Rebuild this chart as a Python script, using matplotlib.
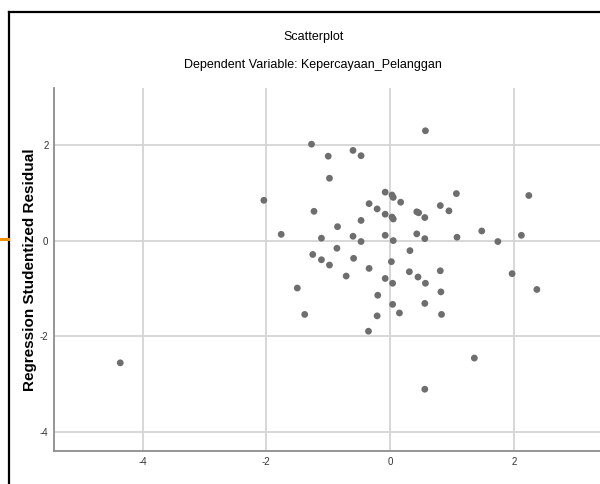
import matplotlib
matplotlib.use("Agg")
from matplotlib import pyplot as plt
from matplotlib.lines import Line2D

# Regression standardized predicted value (x) vs studentized residual (y)
predicted = [0.57, -1.27, -0.60, -0.47, -1.00, -0.98, -2.04, -0.08, 0.03, 0.05,
             0.17, -0.34, -0.21, -0.08, 0.03, 0.05, 0.43, 0.46, 0.56, 0.81,
             0.95, 1.07, -1.23, -0.47, -0.85, -1.76, -1.11, -0.60, -0.47, -0.08,
             0.05, 0.43, 0.56, 1.08, -0.86, -1.25, -1.11, -0.98, -0.59, 0.32,
             0.02, -0.34, -0.71, -0.08, 0.31, 0.45, 0.57, 0.81, 0.04, -1.50,
             -0.20, 0.82, 0.04, 0.56, -1.38, -0.21, 0.15, 0.83, -0.35, 2.37,
             1.36, 0.56, 2.24, 1.48, 1.74, 2.12, 1.97, -4.36]
residual = [2.29, 2.01, 1.88, 1.77, 1.76, 1.30, 0.84, 1.01, 0.95, 0.90,
            0.80, 0.77, 0.66, 0.55, 0.49, 0.45, 0.60, 0.58, 0.48, 0.73,
            0.62, 0.98, 0.61, 0.42, 0.29, 0.13, 0.05, 0.09, -0.02, 0.11,
            0.00, 0.14, 0.04, 0.07, -0.16, -0.29, -0.40, -0.51, -0.37, -0.21,
            -0.44, -0.58, -0.74, -0.79, -0.65, -0.76, -0.89, -0.63, -0.89, -0.99,
            -1.14, -1.07, -1.33, -1.31, -1.54, -1.57, -1.51, -1.54, -1.89, -1.02,
            -2.45, -3.10, 0.94, 0.20, -0.02, 0.11, -0.69, -2.55]

ticks = [-4, -2, 0, 2]
tick_labels = ["-4", "-2", "0", "2"]

plt.rcParams['font.family'] = ['Liberation Sans', 'DejaVu Sans']

fig = plt.figure(figsize=(6, 4.84), dpi=100)
ax = fig.add_axes([0.09, 0.068, 0.91, 0.75])

ax.scatter(predicted, residual, s=24, color='#6e6e6e', edgecolors='none', zorder=3)

ax.set_xlim(-5.43, 3.39)
ax.set_ylim(-4.39, 3.18)
ax.set_xticks(ticks)
ax.set_xticklabels(tick_labels)
ax.set_yticks(ticks)
ax.set_yticklabels(tick_labels)
ax.tick_params(length=0, labelsize=7, colors='#333333', pad=4)
ax.grid(color='#d4d4d4', linewidth=1.3)
ax.set_axisbelow(True)
for side in ['top', 'right']:
    ax.spines[side].set_visible(False)
for side in ['left', 'bottom']:
    ax.spines[side].set_color('#8c8c8c')
    ax.spines[side].set_linewidth(1.3)

ax.set_ylabel('Regression Studentized Residual', fontsize=11, fontweight='bold',
              labelpad=2)

fig.text(0.522, 0.924, 'Scatterplot', ha='center', va='center', fontsize=9)
fig.text(0.522, 0.866, 'Dependent Variable: Kepercayaan_Pelanggan', ha='center',
         va='center', fontsize=9)

# screenshot frame
fig.add_artist(Line2D([0.015, 0.015], [0, 0.976], color='black', linewidth=1.6))
fig.add_artist(Line2D([0.015, 1], [0.976, 0.976], color='black', linewidth=1.6))
fig.add_artist(Line2D([0, 0.013], [0.507, 0.507], color='#f0900a', linewidth=2.2))

fig.savefig('out.png', dpi=100)
